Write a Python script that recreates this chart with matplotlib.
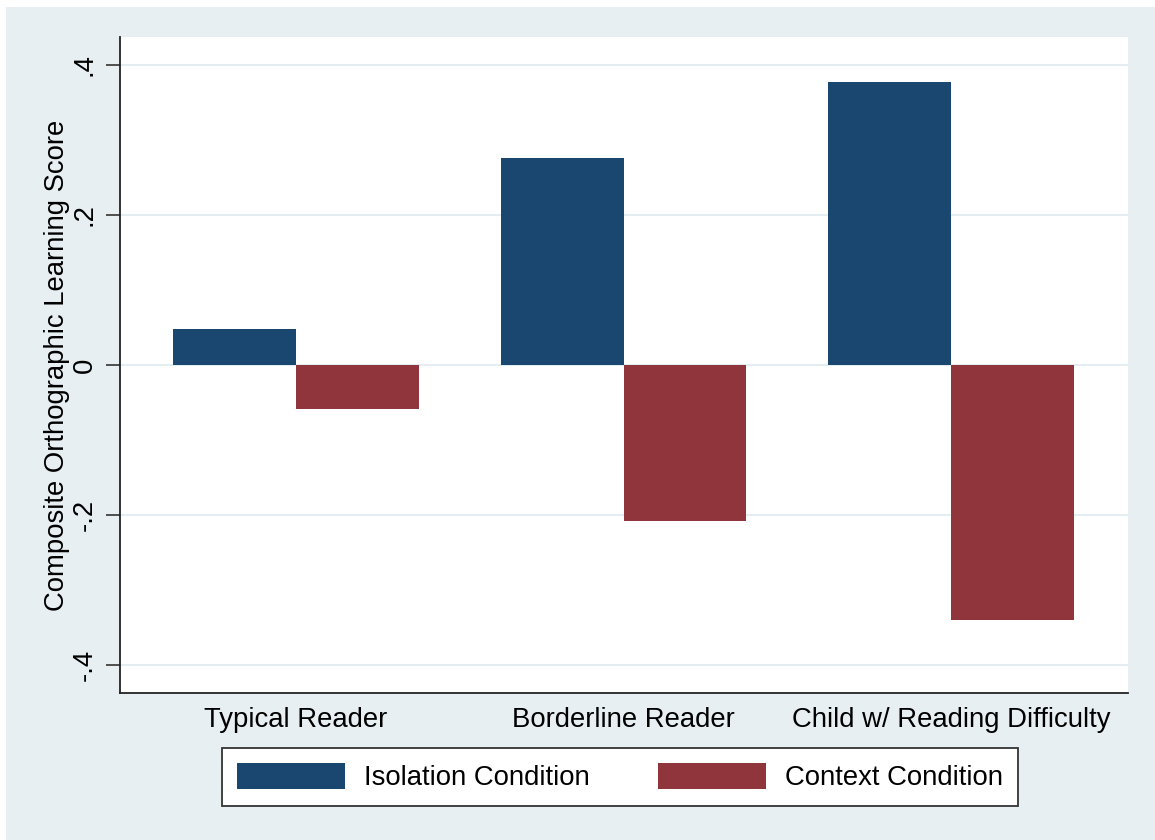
import numpy as np
import matplotlib
matplotlib.use('Agg')
import matplotlib.pyplot as plt
from matplotlib.patches import Rectangle

groups = ['Typical Reader', 'Borderline Reader', 'Child w/ Reading Difficulty']
isolation = [0.048, 0.276, 0.377]
context = [-0.059, -0.208, -0.340]
yticks = [-0.4, -0.2, 0, 0.2, 0.4]
ytick_labels = ['-.4', '-.2', '0', '.2', '.4']

plt.rcParams['font.family'] = ['Liberation Sans', 'DejaVu Sans']

bg = '#e8eff2'
blue = '#1a476f'
red = '#90353b'
fs = 19.8

fig = plt.figure(figsize=(11.55, 8.4), dpi=100)
fig.patch.set_facecolor('white')
# Stata-style graph region (leaves a thin white strip at top and left)
fig.patches.append(Rectangle((6 / 1155, 0), 1, 1 - 7 / 840, transform=fig.transFigure,
                             facecolor=bg, edgecolor='none', zorder=-10))

ax = fig.add_axes([120 / 1155, 1 - 693 / 840, (1128 - 120) / 1155, (693 - 37) / 840])
ax.set_facecolor('white')

x = np.arange(len(groups))
w = 0.375
ax.bar(x - w / 2, isolation, width=w, color=blue, label='Isolation Condition', zorder=3)
ax.bar(x + w / 2, context, width=w, color=red, label='Context Condition', zorder=3)

ax.set_xlim(-0.537, 2.54)
ax.set_ylim(-0.437, 0.437)
ax.set_yticks(yticks)
ax.set_yticklabels(ytick_labels, rotation=90, va='center', fontsize=fs)
ax.set_xticks(x)
ax.set_xticklabels(groups, fontsize=fs)
ax.tick_params(axis='x', length=0, pad=10)
ax.tick_params(axis='y', length=10, width=1.2, color='#333333', pad=6)
ax.grid(axis='y', color='#e4edf2', linewidth=1.5, zorder=0)
ax.set_axisbelow(True)

for s in ['top', 'right']:
    ax.spines[s].set_visible(False)
for s in ['left', 'bottom']:
    ax.spines[s].set_color('#222222')
    ax.spines[s].set_linewidth(1.3)

ax.set_ylabel('Composite Orthographic Learning Score', fontsize=fs, labelpad=1)

leg = fig.legend(loc='center', bbox_to_anchor=(620 / 1155, 1 - 777 / 840), ncol=2,
                 fontsize=fs, frameon=True, fancybox=False, framealpha=1,
                 handlelength=3.93, handleheight=1.09, handletextpad=0.69,
                 columnspacing=2.5, borderpad=0.55, borderaxespad=0)
leg.get_frame().set_edgecolor('#333333')
leg.get_frame().set_linewidth(1.3)

fig.savefig('out.png', dpi=100, facecolor=fig.get_facecolor())
